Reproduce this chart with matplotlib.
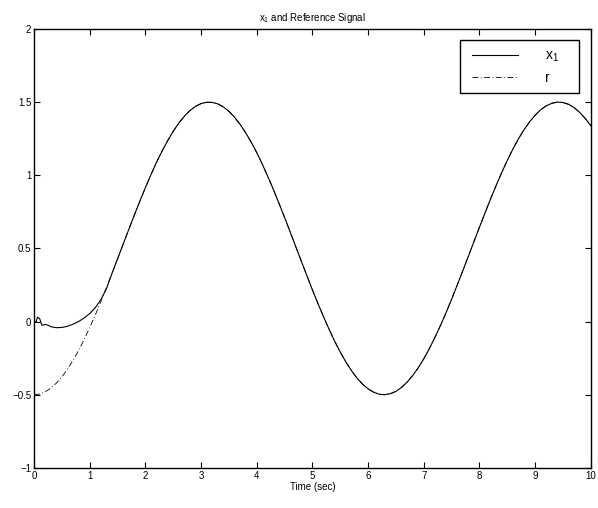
import matplotlib
matplotlib.use('Agg')
from matplotlib import pyplot as plt
from matplotlib.patches import Rectangle

plt.rcParams['font.family'] = ['Liberation Sans', 'DejaVu Sans']
plt.rcParams['mathtext.fontset'] = 'custom'
plt.rcParams['mathtext.rm'] = 'Liberation Sans'
plt.rcParams['mathtext.it'] = 'Liberation Sans'

# reference signal r, every 0.1 s
t_ref = [i / 10 for i in range(101)]
r_vals = [-0.500, -0.495, -0.480, -0.455, -0.421, -0.378, -0.325, -0.265, -0.197, -0.122,
          -0.040, 0.046, 0.138, 0.233, 0.330, 0.429, 0.529, 0.629, 0.727, 0.823,
          0.916, 1.005, 1.089, 1.166, 1.237, 1.301, 1.357, 1.404, 1.442, 1.471,
          1.490, 1.499, 1.498, 1.488, 1.467, 1.437, 1.397, 1.348, 1.291, 1.226,
          1.154, 1.075, 0.990, 0.901, 0.807, 0.711, 0.612, 0.512, 0.413, 0.314,
          0.216, 0.122, 0.032, -0.054, -0.135, -0.209, -0.276, -0.335, -0.386, -0.428,
          -0.460, -0.483, -0.497, -0.500, -0.493, -0.477, -0.450, -0.414, -0.369, -0.316,
          -0.254, -0.185, -0.108, -0.026, 0.061, 0.153, 0.249, 0.347, 0.446, 0.546,
          0.645, 0.743, 0.839, 0.931, 1.019, 1.102, 1.179, 1.249, 1.311, 1.365,
          1.411, 1.448, 1.475, 1.492, 1.500, 1.497, 1.485, 1.462, 1.430, 1.388,
          1.339]

# x1 start-up transient; from t = 1.4 s on it lies on top of r
t_trans = [0.0, 0.04, 0.06, 0.1, 0.14, 0.2, 0.25, 0.3, 0.4, 0.5, 0.6, 0.7, 0.8, 0.9,
           1.0, 1.1, 1.2, 1.3]
x1_trans = [0.0, 0.0, 0.03, 0.02, -0.025, -0.02, -0.025, -0.035, -0.042, -0.04,
            -0.032, -0.018, 0.0, 0.025, 0.055, 0.095, 0.15, 0.225]
t_x1 = t_trans + t_ref[14:]
x1_vals = x1_trans + r_vals[14:]

fig = plt.figure(figsize=(5.98, 5.08), dpi=100)
ax = fig.add_axes([0.057, 0.079, 0.931, 0.864])

ax.plot(t_x1, x1_vals, color='black', linewidth=0.8, label='x$_1$')
ax.plot(t_ref, r_vals, color='black', linewidth=0.6, linestyle=(0, (7, 3, 1, 3)), label='r')

ax.set_xlim(0, 10)
ax.set_ylim(-1, 2)
ax.set_xticks(range(0, 11))
ax.set_yticks([-1, -0.5, 0, 0.5, 1, 1.5, 2])
ax.set_yticklabels(['\u22121', '\u22120.5', '0', '0.5', '1', '1.5', '2'])
ax.tick_params(direction='in', top=True, right=True, labelsize=7, length=4, width=0.8, pad=2)
for s in ax.spines.values():
    s.set_linewidth(1.0)

ax.set_xlabel('Time (sec)', fontsize=7, labelpad=1)
ax.set_title('x$_1$ and Reference Signal', fontsize=7, pad=6)

# matlab-style legend: wide box drawn by hand, entries without a frame on top
ax.add_patch(Rectangle((0.765, 0.854), 0.214, 0.121, transform=ax.transAxes,
                       facecolor='white', edgecolor='black', linewidth=1.0, zorder=4))
leg = ax.legend(loc='upper left', bbox_to_anchor=(0.787, 0.955), fontsize=10,
                frameon=False, borderaxespad=0, borderpad=0, handlelength=3.3,
                handletextpad=1.95, labelspacing=0.5)
leg.set_zorder(5)

plt.savefig('out.png')
